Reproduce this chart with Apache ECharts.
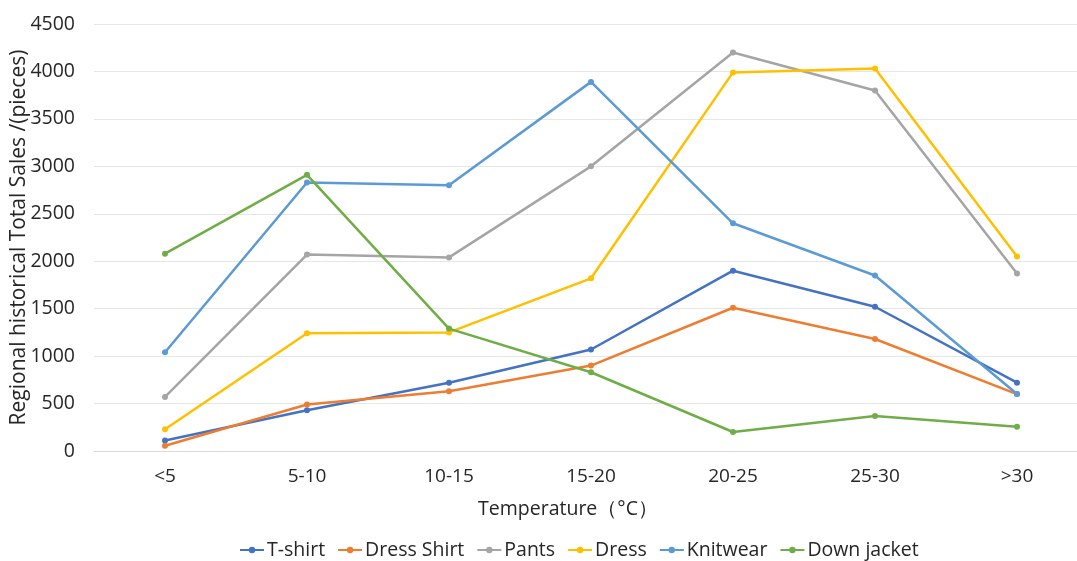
<!DOCTYPE html>
<html><head><meta charset="utf-8">
<script src="https://cdn.jsdelivr.net/npm/echarts@6/dist/echarts.min.js"></script>
<style>html,body{margin:0;padding:0;background:#fff}#c{width:1077px;height:561px}</style>
</head><body><div id="c"></div>
<script>
const categories = ['<5','5-10','10-15','15-20','20-25','25-30','>30'];
const tshirt = [110, 430, 720, 1070, 1900, 1520, 720];
const dressShirt = [55, 490, 630, 900, 1510, 1180, 600];
const pants = [570, 2070, 2040, 3000, 4200, 3800, 1870];
const dress = [230, 1240, 1250, 1820, 3990, 4030, 2050];
const knitwear = [1040, 2830, 2800, 3890, 2400, 1850, 600];
const downJacket = [2080, 2910, 1290, 830, 200, 370, 255];
const seriesNames = ['T-shirt','Dress Shirt','Pants','Dress','Knitwear','Down jacket'];
const seriesData = [tshirt, dressShirt, pants, dress, knitwear, downJacket];
const colors = ['#4472C4','#ED7D31','#A5A5A5','#FFC000','#5B9BD5','#70AD47'];
const font = 'Open Sans';
const txt = '#262626';
const chart = echarts.init(document.getElementById('c'));
chart.setOption({
  animation:false,
  color: colors,
  textStyle:{fontFamily:font},
  grid:{left:94, right:-11, top:24, bottom:110, containLabel:false, outerBoundsMode:'none'},
  legend:{
    bottom:-4, left:234, itemGap:12, itemWidth:24, itemHeight:8,
    textStyle:{fontFamily:font, fontSize:19.5, color:txt, padding:[0,0,0,-2]},
    data: seriesNames
  },
  xAxis:{
    type:'category', data:categories, boundaryGap:true,
    name:'Temperature（°C）', nameLocation:'middle', nameGap:48, nameMoveOverlap:false,
    nameTextStyle:{fontFamily:font, fontSize:19.5, color:txt, padding:[0,46,0,0]},
    axisLine:{lineStyle:{color:'#d9d9d9'}}, axisTick:{show:false},
    axisLabel:{fontFamily:font, fontSize:19, color:txt, margin:16},
    splitLine:{show:false}
  },
  yAxis:{
    type:'value', min:0, max:4500, interval:500,
    name:'Regional historical Total Sales /(pieces)', nameLocation:'middle', nameGap:64, nameMoveOverlap:false,
    nameTextStyle:{fontFamily:font, fontSize:21, color:txt},
    axisLine:{show:false}, axisTick:{show:false},
    axisLabel:{fontFamily:font, fontSize:19.5, color:txt, margin:19, formatter: v => String(v)},
    splitLine:{lineStyle:{color:'#e6e6e6'}}
  },
  series: seriesNames.map((n,i)=>({
    name:n, type:'line', data:seriesData[i], symbol:'circle', symbolSize:6,
    lineStyle:{width:2.5}, itemStyle:{color:colors[i]}
  }))
});
</script></body></html>
